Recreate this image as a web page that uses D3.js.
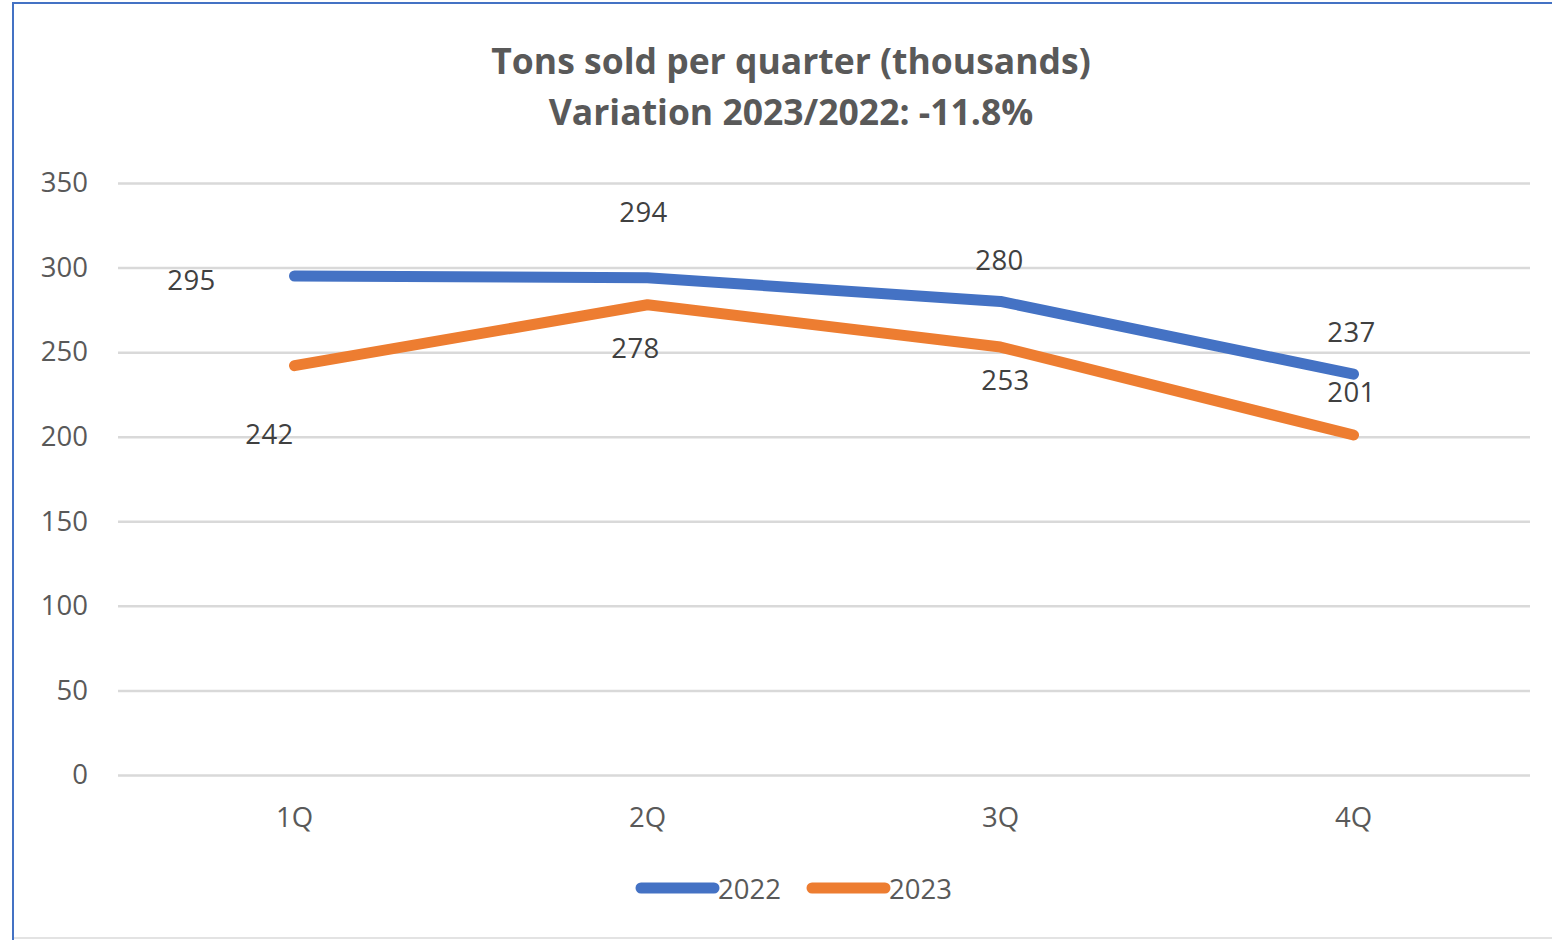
<!DOCTYPE html>
<html>
<head>
<meta charset="utf-8">
<script src="https://cdn.jsdelivr.net/npm/d3@7"></script>
<style>
  body { margin: 0; background: #fff; }
  svg { display: block; font-family: "Open Sans", "Liberation Sans", sans-serif; }
</style>
</head>
<body>
<svg width="1552" height="940"></svg>
<script>
const quarters = ["1Q", "2Q", "3Q", "4Q"];
const series = ["2022", "2023"];
const tons2022 = [295, 294, 280, 237];
const tons2023 = [242, 278, 253, 201];
const yTicks = [0, 50, 100, 150, 200, 250, 300, 350];
const titleLines = ["Tons sold per quarter (thousands)", "Variation 2023/2022: -11.8%"];

// where each value label sits relative to its point (hand placed, as in the original)
const labelShift2022 = [[-103, 3], [-4, -66], [-1, -42], [-2, -43]];
const labelShift2023 = [[-25, 68], [-12, 43], [5, 32], [-2, -44]];

const colors = {"2022": "#4472C4", "2023": "#ED7D31"};
const fs = "27.5px";

const svg = d3.select("svg");
const w = 1552, h = 940;

// outer frame
svg.append("rect").attr("x", 13).attr("y", 3).attr("width", w).attr("height", 935)
    .attr("fill", "#fff").attr("stroke", "#e3e3e3").attr("stroke-width", 2);
svg.append("line").attr("x1", 13).attr("x2", 13).attr("y1", 2).attr("y2", 940)
    .attr("stroke", "#4472C4").attr("stroke-width", 2);
svg.append("line").attr("x1", 12).attr("x2", w).attr("y1", 3).attr("y2", 3)
    .attr("stroke", "#4472C4").attr("stroke-width", 2);

let m = {top: 183, left: 118, right: 22, bottom: 165},
    gW = w - m.left - m.right,
    gH = h - m.top - m.bottom;

const g = svg.append("g").attr("transform", `translate(${m.left},${m.top})`);

const x = d3.scaleBand().domain(quarters).range([0, gW]);
const y = d3.scaleLinear().domain([0, 350]).range([gH, 0]);

// gridlines + y labels
const yAxis = g.append("g")
    .call(d3.axisLeft(y).tickValues(yTicks).tickSize(-gW).tickPadding(30));
yAxis.select(".domain").remove();
yAxis.selectAll(".tick line").attr("stroke", "#d9d9d9").attr("stroke-width", 2.5);
yAxis.selectAll(".tick text").attr("fill", "#595959").style("font-size", fs)
    .style("font-family", "'Open Sans', sans-serif");

// x labels
const xAxis = g.append("g").attr("transform", `translate(0,${gH})`)
    .call(d3.axisBottom(x).tickSize(0).tickPadding(32));
xAxis.select(".domain").remove();
xAxis.selectAll(".tick text").attr("fill", "#595959").style("font-size", fs)
    .style("font-family", "'Open Sans', sans-serif");

const cx = q => x(q) + x.bandwidth() / 2;

const lineGen = d3.line()
    .x((d, i) => cx(quarters[i]))
    .y(d => y(d));

const data = [
    {key: "2022", vals: tons2022, shift: labelShift2022},
    {key: "2023", vals: tons2023, shift: labelShift2023}
];

g.selectAll("path.series")
    .data(data)
    .enter()
    .append("path")
    .attr("class", "series")
    .attr("d", d => lineGen(d.vals))
    .attr("fill", "none")
    .attr("stroke", d => colors[d.key])
    .attr("stroke-width", 11)
    .attr("stroke-linecap", "round")
    .attr("stroke-linejoin", "round");

data.forEach(s => {
    g.selectAll(null)
        .data(s.vals)
        .enter()
        .append("text")
        .attr("x", (d, i) => cx(quarters[i]) + s.shift[i][0])
        .attr("y", (d, i) => y(d) + s.shift[i][1])
        .attr("text-anchor", "middle")
        .attr("dominant-baseline", "central")
        .attr("fill", "#404040")
        .style("font-size", fs)
        .style("letter-spacing", "0.5px")
        .text(d => d);
});

// title
svg.append("g").selectAll("text")
    .data(titleLines)
    .enter()
    .append("text")
    .attr("x", 791)
    .attr("y", (d, i) => 74 + i * 51)
    .attr("text-anchor", "middle")
    .attr("fill", "#595959")
    .style("font-size", "35.5px")
    .style("font-weight", "bold")
    .text(d => d);

// legend
const leg = svg.append("g").attr("transform", "translate(641,888)");
let off = 0;
series.forEach(k => {
    const row = leg.append("g").attr("transform", `translate(${off},0)`);
    row.append("line").attr("x1", 0).attr("x2", 73).attr("y1", 0).attr("y2", 0)
        .attr("stroke", colors[k]).attr("stroke-width", 11).attr("stroke-linecap", "round");
    row.append("text").attr("x", 77).attr("y", 0).attr("dominant-baseline", "central")
        .attr("fill", "#595959").style("font-size", fs).text(k);
    off += 171;
});
</script>
</body>
</html>
